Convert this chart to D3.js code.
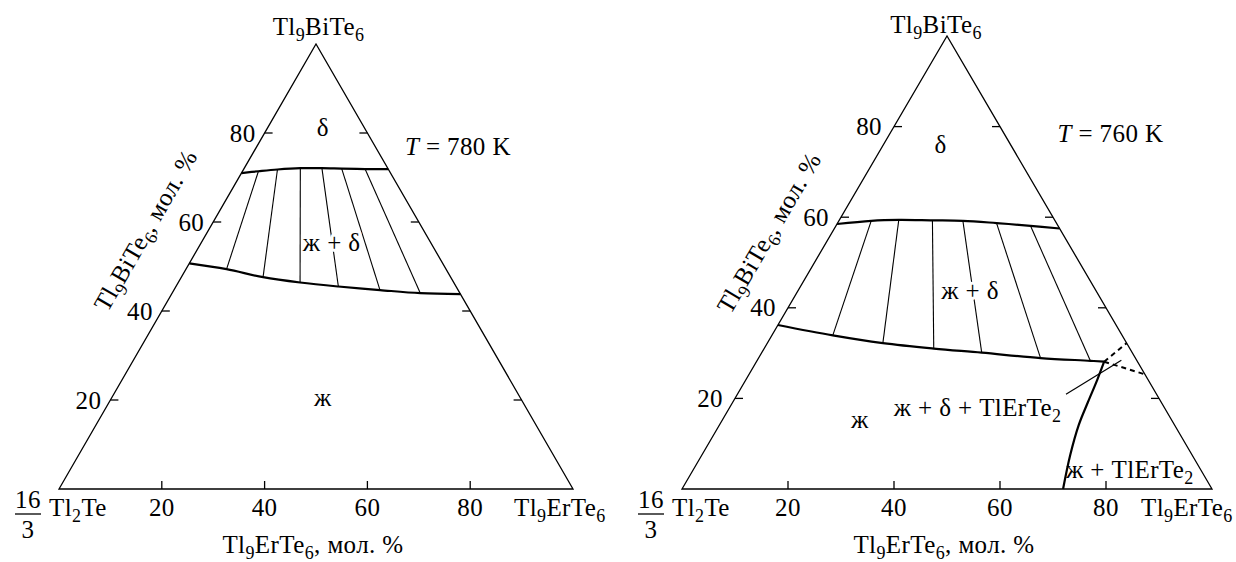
<!DOCTYPE html>
<html><head><meta charset="utf-8">
<script src="https://cdn.jsdelivr.net/npm/d3@7"></script>
<style>
html,body{margin:0;padding:0;background:#fff;}
svg{display:block;}
</style></head><body>
<svg id="chart" width="1236" height="562"></svg>
<script>
// ---------- data (values are [Tl9BiTe6 mol.%, Tl9ErTe6 mol.%]) ----------
const tickValues = [20, 40, 60, 80];
const topCorner = "Tl_{9}BiTe_{6}";
const leftCorner = "Tl_{2}Te";
const rightCorner = "Tl_{9}ErTe_{6}";
const baseTitle = "Tl_{9}ErTe_{6}, мол. %";
const sideTitle = "Tl_{9}BiTe_{6}, мол. %";
const temperatures = ["780", "760"];

// T = 780 K
const leftUpper = [[71.0,0],[71.4,3.1],[71.8,6.6],[72.1,10.9],[72.1,15.1],[72.0,19.0],[71.9,23.6],[71.9,28.1]];
const leftLower = [[50.7,0],[49.4,7.9],[47.6,15.9],[46.4,23.7],[45.5,31.6],[44.7,40.1],[44.0,48.3],[43.8,56.2]];
const leftTies = [
  [[71.4,3.1],[49.4,7.9]],
  [[71.8,6.6],[47.6,15.9]],
  [[72.1,10.9],[46.4,23.7]],
  [[72.1,15.1],[45.5,31.6]],
  [[72.0,19.0],[44.7,40.1]],
  [[71.9,23.6],[44.0,48.3]]
];

// T = 760 K
const rightUpper = [[58.5,0],[59.2,6.1],[59.4,11.2],[59.3,17.6],[59.2,23.4],[58.7,30.0],[58.1,36.7],[57.5,42.5]];
const rightLower = [[36.2,0],[33.9,11.5],[32.2,21.8],[31.0,32.0],[30.1,41.5],[28.9,53.2],[28.3,62.9],[28.1,65.6]];
const rightTies = [
  [[59.2,6.1],[33.9,11.5]],
  [[59.4,11.2],[32.2,21.8]],
  [[59.3,17.6],[31.0,32.0]],
  [[59.2,23.4],[30.1,41.5]],
  [[58.7,30.0],[28.9,53.2]],
  [[58.1,36.7],[28.3,62.9]]
];
const rightErBoundary = [[28.1,65.6],[24.1,66.3],[19.2,67.0],[14.1,67.8],[7.5,69.5],[0,71.9]];
const rightDashUpper = [[28.1,65.6],[32.2,67.8]];
const rightDashLower = [[28.1,65.6],[25.3,74.7]];
const rightLeader = [[20.9,62.0],[28.4,68.7]];

// ---------- drawing ----------
const svg = d3.select("#chart");
const FONT = "Liberation Serif";
const FS = 25, SUB = 18, SUBDY = 6;

function txt(parent) {
  return parent.append("text").attr("font-family", FONT).attr("font-size", FS)
    .attr("letter-spacing", 0.4).attr("fill", "#000");
}

function rich(sel, str) {
  const parts = str.split(/(_\{[^}]*\}|\*[^*]*\*)/).filter(s => s.length);
  let shifted = false;
  parts.forEach(p => {
    let t;
    if (p.startsWith("_{")) {
      t = sel.append("tspan").attr("font-size", SUB).attr("dy", SUBDY).text(p.slice(2, -1));
      shifted = true; return;
    } else if (p.startsWith("*")) {
      t = sel.append("tspan").attr("font-style", "italic").text(p.slice(1, -1));
    } else {
      t = sel.append("tspan").text(p);
    }
    if (shifted) { t.attr("dy", -SUBDY); shifted = false; }
  });
  return sel;
}

const panels = [
  { L:[59,489], R:[573,489], A:[316,44], upper:leftUpper, lower:leftLower, ties:leftTies,
    tickGap:9, topX:318.5, topY:35, rightCornerX:514, titleB:52,
    labels:[
      {t:"δ", b:79.3, e:11.7, anchor:"middle"},
      {t:"two", b:53.5, e:26.3, anchor:"middle"},
      {t:"ж", b:18.65, e:42.0, anchor:"middle"},
      {t:"*T* = " + temperatures[0] + " K", b:75.0, e:29.8, anchor:"start"}
    ]},
  { L:[682,489], R:[1212,489], A:[947,36], upper:rightUpper, lower:rightLower, ties:rightTies,
    tickGap:12, topX:936, topY:33, rightCornerX:1141, titleB:50.5,
    labels:[
      {t:"δ", b:74.2, e:11.7, anchor:"middle"},
      {t:"two", b:41.9, e:33.4, anchor:"middle"},
      {t:"ж + δ + TlErTe_{2}", b:16.1, e:31.9, anchor:"start"},
      {t:"ж", b:13.5, e:26.8, anchor:"middle"},
      {t:"ж + TlErTe_{2}", b:2.4, e:71.25, anchor:"start"},
      {t:"*T* = " + temperatures[1] + " K", b:76.7, e:32.5, anchor:"start"}
    ],
    extra:true }
];

panels.forEach(pn => {
  const g = svg.append("g");
  const ex = d3.scaleLinear().domain([0,100]).range([pn.L[0], pn.R[0]]);
  const bx = d3.scaleLinear().domain([0,100]).range([0, pn.A[0]-pn.L[0]]);
  const by = d3.scaleLinear().domain([0,100]).range([pn.L[1], pn.A[1]]);
  const P = d => [ex(d[1]) + bx(d[0]), by(d[0])];
  const curve = d3.line().x(d => P(d)[0]).y(d => P(d)[1]).curve(d3.curveCatmullRom.alpha(0.5));
  const straight = d3.line().x(d => P(d)[0]).y(d => P(d)[1]);

  g.append("path").attr("d", straight([[0,0],[0,100],[100,0]]) + "Z")
    .attr("fill","none").attr("stroke","#000").attr("stroke-width",1.3);

  tickValues.forEach(v => {
    const pb = P([0, v]);
    g.append("line").attr("x1",pb[0]).attr("x2",pb[0]).attr("y1",pb[1]).attr("y2",pb[1]-8)
      .attr("stroke","#000").attr("stroke-width",1.3);
    txt(g).attr("x",pb[0]).attr("y",516).attr("text-anchor","middle").text(v);
    const pl = P([v, 0]);
    g.append("line").attr("x1",pl[0]).attr("x2",pl[0]+8).attr("y1",pl[1]).attr("y2",pl[1])
      .attr("stroke","#000").attr("stroke-width",1.3);
    txt(g).attr("x",pl[0]-pn.tickGap).attr("y",pl[1]+8.5).attr("text-anchor","end").text(v);
    const pr = P([v, 100-v]);
    g.append("line").attr("x1",pr[0]).attr("x2",pr[0]-8).attr("y1",pr[1]).attr("y2",pr[1])
      .attr("stroke","#000").attr("stroke-width",1.3);
  });

  pn.ties.forEach(t => {
    g.append("path").attr("d", straight(t)).attr("fill","none").attr("stroke","#000").attr("stroke-width",1.1);
  });
  [pn.upper, pn.lower].forEach(arr => {
    g.append("path").attr("d", curve(arr)).attr("fill","none").attr("stroke","#000").attr("stroke-width",2.2);
  });

  if (pn.extra) {
    g.append("path").attr("d", curve(rightErBoundary)).attr("fill","none").attr("stroke","#000").attr("stroke-width",2.2);
    [rightDashUpper, rightDashLower].forEach(arr => {
      g.append("path").attr("d", straight(arr)).attr("fill","none").attr("stroke","#000")
        .attr("stroke-width",2).attr("stroke-dasharray","5,4");
    });
    g.append("path").attr("d", straight(rightLeader)).attr("fill","none").attr("stroke","#000").attr("stroke-width",1.2);
  }

  rich(txt(g).attr("x",pn.topX).attr("y",pn.topY).attr("text-anchor","middle"), topCorner);
  rich(txt(g).attr("x",pn.L[0]-10).attr("y",516).attr("text-anchor","start"), leftCorner);
  rich(txt(g).attr("x",pn.rightCornerX).attr("y",516).attr("text-anchor","start"), rightCorner);
  const fx = pn.L[0] - 31;
  txt(g).attr("x",fx).attr("y",508).attr("text-anchor","middle").text("16");
  g.append("line").attr("x1",fx-13).attr("x2",fx+13).attr("y1",514).attr("y2",514).attr("stroke","#000").attr("stroke-width",1.3);
  txt(g).attr("x",fx).attr("y",538).attr("text-anchor","middle").text("3");

  rich(txt(g).attr("x",(pn.L[0]+pn.R[0])/2 - 3).attr("y",553).attr("text-anchor","middle"), baseTitle);

  const ang = Math.atan2(pn.A[1]-pn.L[1], pn.A[0]-pn.L[0]);
  const pm = P([pn.titleB, 0]);
  const nx = Math.sin(ang), ny = -Math.cos(ang);
  const dist = 46;
  rich(txt(g).attr("text-anchor","middle")
    .attr("transform", `translate(${pm[0]+nx*dist},${pm[1]+ny*dist}) rotate(${ang*180/Math.PI})`), sideTitle);

  pn.labels.forEach(lb => {
    const p = P([lb.b, lb.e]);
    const t = txt(g).attr("x",p[0]).attr("y",p[1]).attr("text-anchor",lb.anchor);
    if (lb.t === "two") {
      t.style("paint-order","stroke");
      t.append("tspan").text("ж");
      t.append("tspan").attr("stroke","#fff").attr("stroke-width",6).attr("stroke-linejoin","round").text(" + δ");
    } else {
      rich(t, lb.t);
    }
  });
});
</script>
</body></html>
